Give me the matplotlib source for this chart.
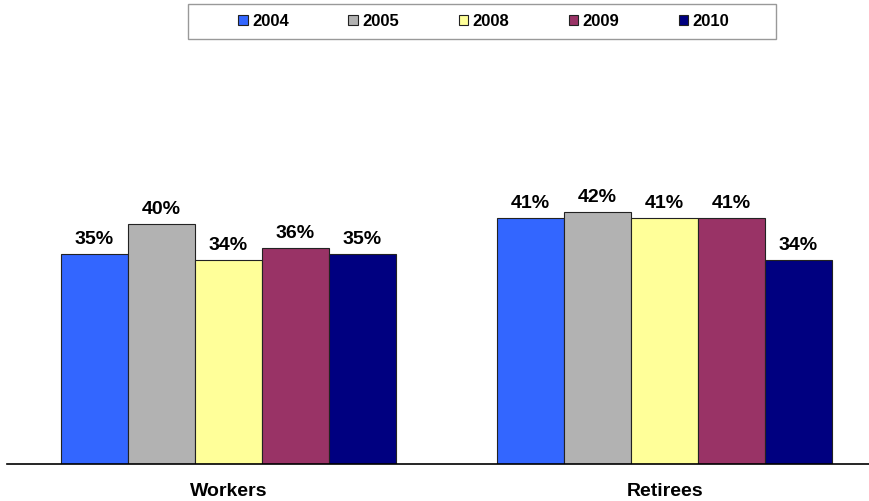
import numpy as np
import matplotlib.pyplot as plt
from matplotlib.patches import Rectangle
from matplotlib.transforms import blended_transform_factory

plt.rcParams['font.family'] = ['Liberation Sans', 'DejaVu Sans']

groups = ['Workers', 'Retirees']
years = ['2004', '2005', '2008', '2009', '2010']
values = {
    '2004': [35, 41],
    '2005': [40, 42],
    '2008': [34, 41],
    '2009': [36, 41],
    '2010': [35, 34],
}
colors = ['#3366FF', '#B2B2B2', '#FFFF99', '#993366', '#000080']

W, H = 870, 501
fig = plt.figure(figsize=(W / 100, H / 100), dpi=100)
ax = fig.add_axes([7 / W, (H - 464) / H, 863 / W, 300 / H])

x = np.arange(len(groups))
bw = 0.768 / len(years)
for i, (yr, c) in enumerate(zip(years, colors)):
    pos = x - 0.768 / 2 + bw * (i + 0.5)
    bars = ax.bar(pos, values[yr], width=bw, color=c, edgecolor='#222222',
                  linewidth=0.8, label=yr)
    for b, v in zip(bars, values[yr]):
        ax.annotate(f'{v}%', (b.get_x() + b.get_width() / 2, v),
                    xytext=(0, 7), textcoords='offset points', ha='center',
                    va='baseline', fontsize=14, fontweight='bold')

ax.set_xlim(-0.508, 1.471)
ax.set_ylim(0, 50)
ax.set_yticks([])
ax.set_xticks([])
trans = blended_transform_factory(ax.transData, ax.transAxes)
for xi, g in zip(x, groups):
    ax.text(xi, -32 / 300, g, transform=trans, ha='center', va='baseline',
            fontsize=14, fontweight='bold')
for s in ['top', 'right', 'left']:
    ax.spines[s].set_visible(False)
ax.spines['bottom'].set_linewidth(1.2)

# legend box (frame drawn separately to match the wide reference box)
fig.patches.append(Rectangle((188 / W, 1 - 39 / H), 588 / W, 35 / H,
                             transform=fig.transFigure, facecolor='white',
                             edgecolor='#999999', linewidth=1, zorder=0))
leg = fig.legend(loc='center', bbox_to_anchor=(484 / W, 1 - 21.5 / H),
                 ncol=5, frameon=False,
                 prop={'weight': 'bold', 'size': 12}, handlelength=0.55,
                 handleheight=0.55, handletextpad=0.3, columnspacing=3.55,
                 borderpad=0, borderaxespad=0)
for h in leg.legend_handles:
    h.set_edgecolor('#222222')
    h.set_linewidth(0.8)

fig.savefig('out.png', dpi=100)
